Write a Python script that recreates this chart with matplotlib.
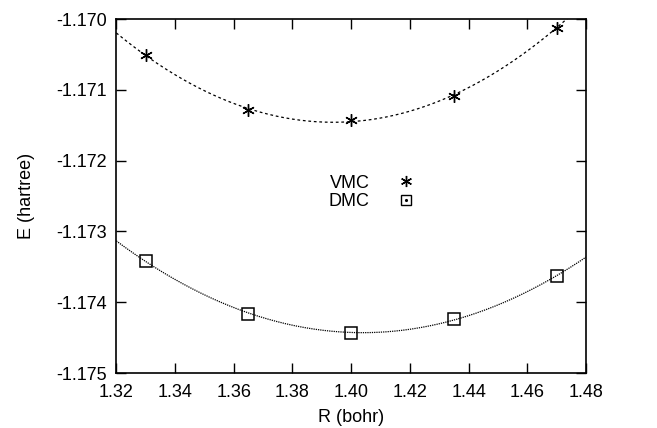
import numpy as np
import matplotlib
matplotlib.use("Agg")
import matplotlib.pyplot as plt
from matplotlib.lines import Line2D

plt.rcParams['font.family'] = ['Liberation Sans', 'DejaVu Sans']

R = [1.33, 1.365, 1.40, 1.435, 1.47]
E_vmc = [-1.17051, -1.17128, -1.17143, -1.17108, -1.17012]
E_dmc = [-1.17342, -1.17416, -1.17443, -1.17424, -1.17363]
xticks = [1.32, 1.34, 1.36, 1.38, 1.40, 1.42, 1.44, 1.46, 1.48]
yticks = [-1.170, -1.171, -1.172, -1.173, -1.174, -1.175]

fig = plt.figure(figsize=(6.57, 4.28), dpi=100)
ax = fig.add_axes([0.177, 0.1285, 0.715, 0.827])

# quadratic fits through the data
xf = np.linspace(1.32, 1.48, 300)
cv = np.polyfit(R, E_vmc, 2)
cd = np.polyfit(R, E_dmc, 2)
ax.plot(xf, np.polyval(cv, xf), color='black', lw=0.9, ls=(0, (2.2, 2.2)))
ax.plot(xf, np.polyval(cd, xf), color='black', lw=0.9, ls=(0, (1, 0.8)))

ax.plot(R, E_vmc, ls='none', marker=(6, 2, 0), ms=9, mew=1.0, color='black')
ax.plot(R, E_dmc, ls='none', marker='s', ms=8.5, mew=1.1, mfc='none', mec='black')

h_vmc = Line2D([], [], ls='none', marker=(6, 2, 0), ms=8, mew=1.0, color='black')
h_sq = Line2D([], [], ls='none', marker='s', ms=7, mew=1.0, mfc='none', mec='black')
h_dot = Line2D([], [], ls='none', marker='.', ms=2.5, color='black')
leg = ax.legend([h_vmc, (h_sq, h_dot)], ['VMC', 'DMC'], markerfirst=False,
                frameon=False, loc='center', bbox_to_anchor=(0.549, 0.51),
                fontsize=13, handlelength=1.5, handletextpad=1.3,
                labelspacing=0.1)

ax.set_xlim(1.32, 1.48)
ax.set_ylim(-1.175, -1.170)
ax.set_xticks(xticks)
ax.set_xticklabels([f"{t:.2f}" for t in xticks])
ax.set_yticks(yticks)
ax.set_yticklabels([f"{t:.3f}" for t in yticks])
ax.tick_params(direction='in', top=True, right=True, length=7, width=1.0,
               labelsize=13)
ax.tick_params(axis='y', pad=7)
ax.tick_params(axis='x', pad=8)
for s in ax.spines.values():
    s.set_linewidth(1.2)
ax.set_xlabel('R (bohr)', fontsize=13, labelpad=6)
ax.set_ylabel('E (hartree)', fontsize=13, labelpad=15)

fig.savefig('out.png', dpi=100)
